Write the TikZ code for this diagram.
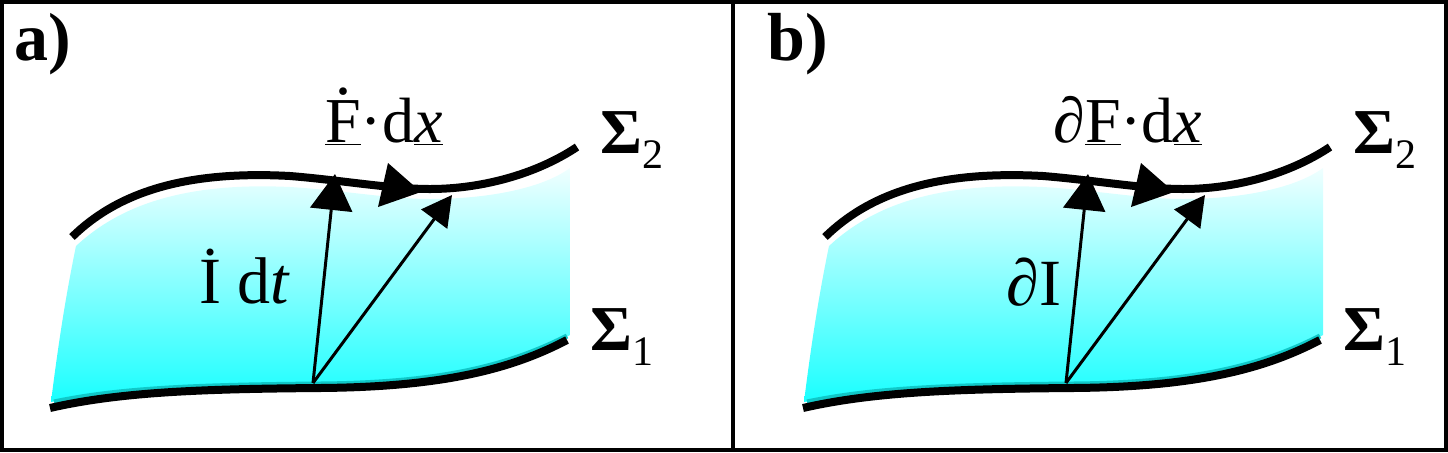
\documentclass[tikz,border=0pt]{standalone}
\usepackage{fontspec}
\setmainfont{Liberation Serif}
\usetikzlibrary{arrows.meta}
\definecolor{stripteal}{RGB}{16,200,200}
\newcommand{\dotover}[1]{\leavevmode\ooalign{#1\cr\hidewidth\raisebox{0.74em}{.}\hidewidth\cr}}
\newcommand{\sigmalabel}[1]{{\bfseries Σ}\raisebox{-7.5pt}{\fontsize{21}{25}\selectfont #1}}
\tikzset{
  curve/.style={line width=4pt},
  strip/.style={line width=2.5pt, color=stripteal},
  vec/.style={line width=1.5pt},
  bighead/.style={-{Triangle[length=18pt,width=21pt]}},
  smallhead/.style={-{Triangle[length=15pt,width=16pt]}},
  lbl/.style={font=\fontsize{32}{38}\selectfont, inner sep=0pt, anchor=base west},
  sidelbl/.style={font=\fontsize{33}{40}\selectfont, inner sep=0pt, anchor=base west},
  panellbl/.style={font=\bfseries\fontsize{34}{40}\selectfont, inner sep=0pt, anchor=base west},
  frame/.style={line width=2pt}
}
% #1 suffix, #2 shift, #3 panel label, #4 top label, #5 top label x, #6 side label, #7 side x, #8 side y
\newcommand{\drawpanel}[8]{%
\begin{scope}[shift={(#2,0)}]
  \shade[top color=cyan!6!white, bottom color=cyan!90!white]
    (76,246) .. controls (120,205) and (185,182) .. (290,187)
    .. controls (340,190) and (390,199) .. (430,199)
    .. controls (482,199) and (540,190) .. (570,168)
    -- (570,335) .. controls (510,366) and (440,383) .. (320,384)
    .. controls (200,385) and (120,389) .. (51,402)
    .. controls (60,330) and (68,285) .. (76,246) -- cycle;
  \draw[strip] (54,402) .. controls (120,388) and (200,385) .. (320,384)
    .. controls (440,383) and (508,366) .. (567,336);
  \draw[curve] (72,237) .. controls (115,195) and (180,170) .. (290,176)
    .. controls (340,180) and (390,189) .. (430,189)
    .. controls (480,189) and (535,175) .. (577,147);
  \draw[curve] (50,408) .. controls (120,392) and (200,389) .. (320,388)
    .. controls (440,387) and (510,370) .. (567,340);
  \coordinate (o#1) at (313,383);
  \coordinate (t#1) at (335,174);
  \coordinate (s#1) at (452,195);
  \draw[vec,bighead] (o#1) -- (t#1);
  \draw[vec,smallhead] (o#1) -- (s#1);
  \fill (421,192) -- (388,163) -- (378,207) -- cycle;
  \node[panellbl] (p#1) at (14,60) {#3};
  \node[lbl] (f#1) at (#5,142) {#4};
  \node[sidelbl] (i#1) at (#7,#8) {#6};
  \node[lbl] (sa#1) at (600,153) {\sigmalabel{2}};
  \node[lbl] (sb#1) at (590,350) {\sigmalabel{1}};
\end{scope}}
\begin{document}
\begin{tikzpicture}[x=0.5pt,y=-0.5pt]
  \useasboundingbox (0,0) rectangle (1448,452);
  \fill[white] (0,0) rectangle (1448,452);
  \drawpanel{a}{0}{a)}{\underline{\dotover{F}}·d\underline{\itshape x}}{325}{İ d{\itshape t}}{199}{303}
  \drawpanel{b}{753}{b)}{∂\underline{F}·d\underline{\itshape x}}{300}{∂I}{253}{305}
  \draw[frame] (2,2) rectangle (1446,450);
  \draw[frame] (733,0) -- (733,452);
\end{tikzpicture}
\end{document}
